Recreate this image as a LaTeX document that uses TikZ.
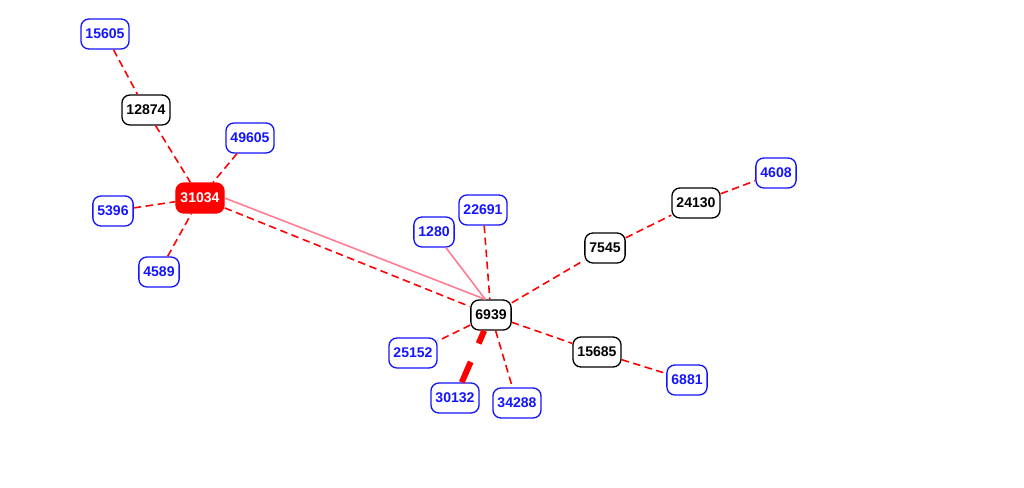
\documentclass[tikz,border=0pt]{standalone}
\usepackage{fontspec}
\setmainfont{Liberation Sans}
\usetikzlibrary{positioning}

\definecolor{edgered}{RGB}{255,0,0}
\definecolor{edgepink}{RGB}{255,125,145}
\definecolor{nodeblue}{RGB}{20,20,255}

\begin{document}
\begin{tikzpicture}[
  x=0.02cm, y=-0.02cm,
  line cap=butt,
  line join=round,
  host/.style={draw=black,fill=white,rounded corners=0.16cm,line width=0.75pt,
    inner xsep=0.09cm,inner ysep=0pt,minimum height=0.6cm,
    font=\fontsize{8}{9}\selectfont\bfseries},
  leaf/.style={host,draw=nodeblue,text=nodeblue},
  root/.style={host,draw=edgered,fill=edgered,text=white},
  link/.style={draw=edgered,line width=0.9pt,dash pattern=on 0.15cm off 0.09cm},
  soft/.style={draw=edgepink,line width=0.9pt},
  heavy/.style={draw=edgered,line width=3.4pt,dash pattern=on 0.5cm off 0.4cm,dash phase=0.22cm}
]
\useasboundingbox[fill=white] (0,0) rectangle (1024,487);

% left cluster
\node[leaf] (n15605) at (105,34) {15605};
\node[host] (n12874) at (146,110) {12874};
\node[leaf] (n49605) at (250,138) {49605};
\node[root] (n31034) at (200,198) {31034};
\node[leaf] (n5396) at (113,211) {5396};
\node[leaf] (n4589) at (159,272) {4589};

% right cluster
\node[leaf] (n22691) at (483,210) {22691};
\node[leaf] (n1280) at (434,232) {1280};
\node[host] (n7545) at (605,248) {7545};
\node[host] (n24130) at (696,203) {24130};
\node[leaf] (n4608) at (776,173) {4608};
\node[host] (n6939) at (491,315) {6939};
\node[leaf] (n25152) at (413,353) {25152};
\node[host] (n15685) at (597,352) {15685};
\node[leaf] (n6881) at (687,380) {6881};
\node[leaf] (n30132) at (455,398) {30132};
\node[leaf] (n34288) at (517,403) {34288};

% edges around 31034
\draw[link] (n15605) -- (n12874);
\draw[link] (n12874) -- (n31034);
\draw[link] (n49605) -- (n31034);
\draw[link] (n5396) -- (n31034);
\draw[link] (n4589) -- (n31034);

% the two links between the clusters
\draw[link] (n31034) -- (n6939);
\draw[soft] (n31034.east) -- (n6939.110);

% edges around 6939
\draw[soft] (n1280) -- (n6939.110);
\draw[link] (n22691) -- (n6939);
\draw[link] (n6939) -- (n7545);
\draw[link] (n7545) -- (n24130);
\draw[link] (n24130) -- (n4608);
\draw[link] (n6939) -- (n25152);
\draw[heavy] (n6939) -- (n30132);
\draw[link] (n6939) -- (n34288);
\draw[link] (n6939) -- (n15685);
\draw[link] (n15685) -- (n6881);

\end{tikzpicture}
\end{document}
